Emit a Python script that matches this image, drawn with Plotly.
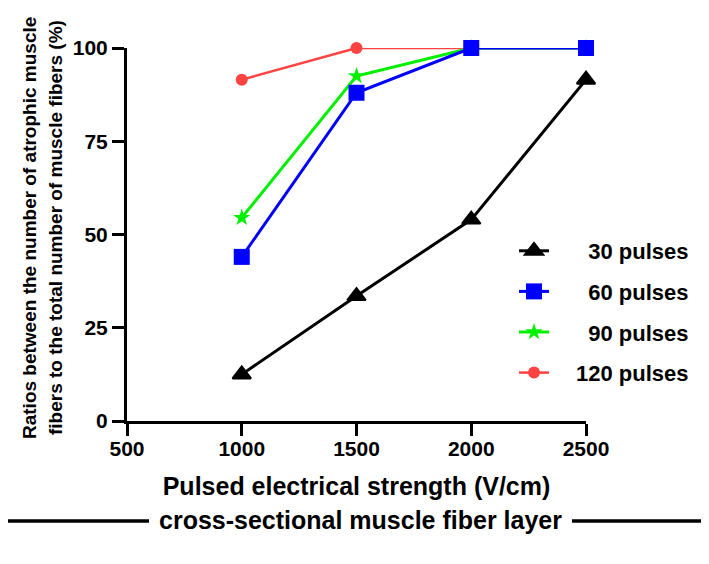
import plotly.graph_objects as go

# ---- data ----
strength = [1000, 1500, 2000, 2500]
pulses_30 = [12.5, 33.5, 54.0, 91.5]
pulses_60 = [44.0, 88.0, 100.0, 100.0]
pulses_90 = [54.5, 92.5, 100.0, 100.0]
pulses_120 = [91.5, 100.0, 100.0, 100.0]
series_names = ["\u2003\u200730 pulses", "\u2003\u200760 pulses",
                "\u2003\u200790 pulses", "\u2003120 pulses"]
x_ticks = [500, 1000, 1500, 2000, 2500]
y_ticks = [0, 25, 50, 75, 100]

FONT = "Arial, 'Liberation Sans', sans-serif"

fig = go.Figure()

# draw order: red, green, blue, black; legendrank puts 30 first
fig.add_trace(go.Scatter(
    x=strength, y=pulses_120, name=series_names[3], mode="lines+markers",
    line=dict(color="#FF4242", width=2.5),
    marker=dict(symbol="circle", size=12, color="#FF4242"),
    cliponaxis=False, legendgroup="g120", legendrank=4))
fig.add_trace(go.Scatter(
    x=strength, y=pulses_90, name=series_names[2], mode="lines+markers",
    line=dict(color="#00F000", width=3),
    marker=dict(symbol="star", size=13, color="#00F000"),
    cliponaxis=False, legendgroup="g90", legendrank=3))
fig.add_trace(go.Scatter(
    x=strength, y=pulses_60, name=series_names[1], mode="lines+markers",
    line=dict(color="#0000FF", width=3),
    marker=dict(symbol="square", size=16, color="#0000FF"),
    cliponaxis=False, legendgroup="g60", legendrank=2))
fig.add_trace(go.Scatter(
    x=strength, y=pulses_30, name=series_names[0], mode="lines+markers",
    line=dict(color="#000000", width=3),
    marker=dict(symbol="triangle-up", size=16, color="#000000",
                line=dict(color="#000000", width=2)),
    cliponaxis=False, legendgroup="g30", legendrank=1))

axis_common = dict(
    showline=True, linecolor="black", linewidth=3,
    ticks="outside", ticklen=12, tickwidth=3, tickcolor="black",
    showgrid=False, zeroline=False,
    tickfont=dict(family=FONT, size=21, color="black", weight="bold"),
)

fig.update_xaxes(range=[500, 2500], tickvals=x_ticks, ticklabelstandoff=-5,
                 title=dict(text="Pulsed electrical strength (V/cm)",
                            font=dict(family=FONT, size=25, color="black", weight="bold"),
                            standoff=19),
                 **axis_common)
fig.update_yaxes(range=[0, 100], tickvals=y_ticks, **axis_common)

# page body has an 8px margin, so the figure starts at screen (8, 8)
OFF = 8
W, H = 709 - OFF, 564 - OFF
L, R, T, B = 127 - OFF, 123, 48 - OFF, 143
pw, ph = W - L - R, H - T - B

def px2x(px):  # screen px -> paper
    return (px - OFF - L) / pw

def px2y(py):
    return (H - B - (py - OFF)) / ph

annotations = [
    dict(text="Ratios between the number of atrophic muscle", textangle=-90,
         x=px2x(29), y=px2y(228), xref="paper", yref="paper",
         xanchor="center", yanchor="middle", showarrow=False,
         font=dict(family=FONT, size=19, color="black", weight="bold")),
    dict(text="fibers to the total number of muscle fibers (%)", textangle=-90,
         x=px2x(55), y=px2y(228), xref="paper", yref="paper",
         xanchor="center", yanchor="middle", showarrow=False,
         font=dict(family=FONT, size=19, color="black", weight="bold")),
    dict(text="cross-sectional muscle fiber layer",
         x=px2x(360), y=px2y(520), xref="paper", yref="paper",
         xanchor="center", yanchor="middle", showarrow=False,
         font=dict(family=FONT, size=25, color="black", weight="bold")),
]

shapes = [
    dict(type="line", xref="paper", yref="paper", x0=px2x(0), x1=px2x(149),
         y0=px2y(521), y1=px2y(521), line=dict(color="black", width=3.5)),
    dict(type="line", xref="paper", yref="paper", x0=px2x(572), x1=px2x(709),
         y0=px2y(521), y1=px2y(521), line=dict(color="black", width=3.5)),
]

fig.update_layout(
    width=W, height=H,
    margin=dict(l=L, r=R, t=T, b=B),
    paper_bgcolor="white", plot_bgcolor="white",
    annotations=annotations, shapes=shapes,
    legend=dict(x=px2x(514), y=px2y(230), xanchor="left", yanchor="top",
                traceorder="grouped", tracegroupgap=9,
                itemwidth=30, bgcolor="rgba(0,0,0,0)",
                font=dict(family=FONT, size=22, color="black", weight="bold")),
    showlegend=True,
)

fig.write_html("out.html")
